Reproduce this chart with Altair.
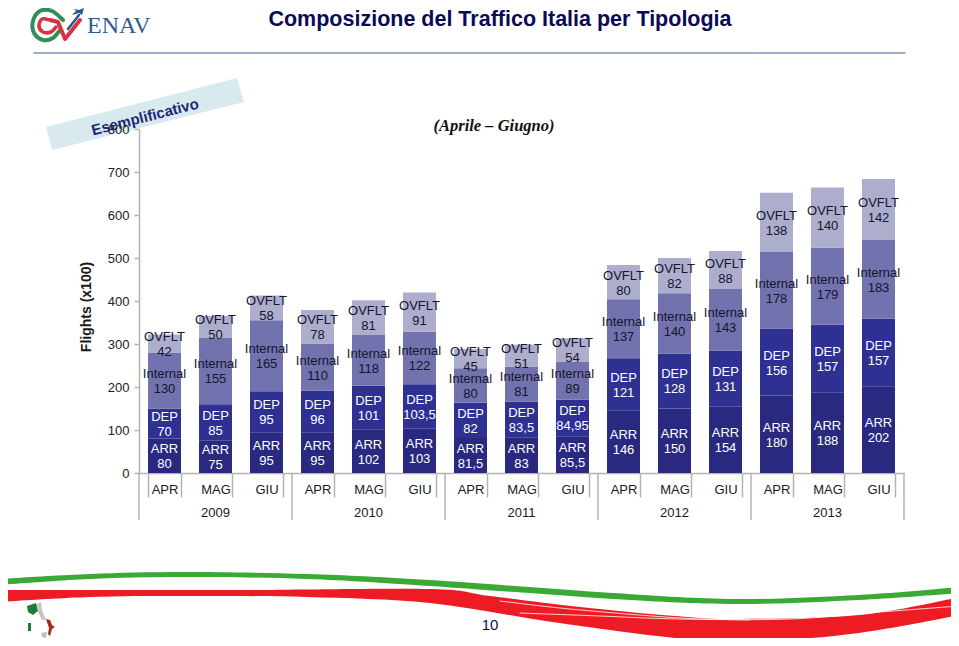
import re
import altair as alt
import pandas as pd

YEARS = ["2009", "2010", "2011", "2012", "2013"]
MONTHS = ["APR", "MAG", "GIU"]
SERIES = ["ARR", "DEP", "Internal", "OVFLT"]
COLORS = ["#29297f", "#2e3092", "#7272ae", "#adadcd"]
ARR = [80, 75, 95, 95, 102, 103, 81.5, 83, 85.5, 146, 150, 154, 180, 188, 202]
DEP = [70, 85, 95, 96, 101, 103.5, 82, 83.5, 84.95, 121, 128, 131, 156, 157, 157]
INTERNAL = [130, 155, 165, 110, 118, 122, 80, 81, 89, 137, 140, 143, 178, 179, 183]
OVFLT = [42, 50, 58, 78, 81, 91, 45, 51, 54, 80, 82, 88, 138, 140, 142]
Y_TICKS = [0, 100, 200, 300, 400, 500, 600, 700, 800]

KEYS = [f"{y}|{m}" for y in YEARS for m in MONTHS]
rows = []
for s, vals in zip(SERIES, [ARR, DEP, INTERNAL, OVFLT]):
    for k, v in zip(KEYS, vals):
        txt = f"{v:g}".replace(".", ",")
        rows.append({"key": k, "series": s, "order": SERIES.index(s), "value": v, "label": f"{s}\n{txt}"})
df = pd.DataFrame(rows)

LEFT, TOP, W, H = 139, 129, 765, 344
ONE = pd.DataFrame({"a": [0]})
OX, OY, R = 479, 323, 480
GREY = "#b3b3b3"
FONT = "Liberation Sans"

xenc = alt.X(
    "key:N", sort=KEYS,
    scale=alt.Scale(paddingInner=0.353, paddingOuter=0.1765),
    axis=alt.Axis(
        title=None, labelExpr="split(datum.value,'|')[1]", labelAngle=0, tickBand="extent",
        tickSize=24, tickColor=GREY, tickWidth=1.5, domainColor=GREY, domainWidth=1.5,
        labelPadding=-8, labelFont=FONT, labelFontSize=13, labelColor="#1a1a1a", labelBaseline="middle",
    ),
)
yaxis = alt.Axis(
    values=Y_TICKS, title="Flights (x100)", titleFont=FONT, titleFontSize=14, titleFontWeight="bold",
    titleColor="#1a1a1a", titleX=-46, titleY=177.5, grid=False, tickSize=5, tickColor=GREY, tickWidth=1.5,
    domainColor=GREY, domainWidth=1.5, labelFont=FONT, labelFontSize=13, labelColor="#222222",
    labelPadding=5, zindex=1,
)
yscale = alt.Scale(domain=[0, 800], nice=False)


def to_unit(path):
    nums = iter(re.findall(r"[A-Za-z]|-?[\d.]+", path))
    out, is_x = [], True
    for t in nums:
        if t.isalpha():
            out.append(t)
            is_x = True
        else:
            v = float(t)
            out.append(f"{(v - OX) / R:.5f}" if is_x else f"{(v - OY) / R:.5f}")
            is_x = not is_x
    return " ".join(out)


def smooth(pts):
    d = f"M {pts[0][0]} {pts[0][1]}"
    for i in range(len(pts) - 1):
        p0 = pts[max(i - 1, 0)]
        p1 = pts[i]
        p2 = pts[i + 1]
        p3 = pts[min(i + 2, len(pts) - 1)]
        c1 = (p1[0] + (p2[0] - p0[0]) / 6, p1[1] + (p2[1] - p0[1]) / 6)
        c2 = (p2[0] - (p3[0] - p1[0]) / 6, p2[1] - (p3[1] - p1[1]) / 6)
        d += f" C {c1[0]} {c1[1]} {c2[0]} {c2[1]} {p2[0]} {p2[1]}"
    return d


def ribbon(top, bottom):
    a = smooth(top)
    b = smooth(bottom[::-1])
    return a + " L" + b[1:] + " Z"


def shape_fill(path, color, opacity=1):
    return alt.Chart(ONE).mark_point(
        shape=to_unit(path), size=(2 * R) ** 2, filled=True, fill=color, stroke=None, opacity=opacity
    ).encode(x=alt.value(OX - LEFT), y=alt.value(OY - TOP))


def shape_line(path, color, sw):
    return alt.Chart(ONE).mark_point(
        shape=to_unit(path), size=(2 * R) ** 2, filled=False, stroke=color, strokeWidth=sw, opacity=1,
        strokeCap="round", strokeJoin="round",
    ).encode(x=alt.value(OX - LEFT), y=alt.value(OY - TOP))


def label(text, x, y, **kw):
    kw.setdefault("font", FONT)
    kw.setdefault("baseline", "middle")
    return alt.Chart(ONE).mark_text(text=text, **kw).encode(x=alt.value(x - LEFT), y=alt.value(y - TOP))


stacked = alt.Chart(df).transform_stack(
    stack="value", as_=["y0", "y1"], groupby=["key"], sort=[alt.SortField("order", order="ascending")]
).transform_calculate(mid="(datum.y0+datum.y1)/2")

bars = stacked.mark_bar().encode(
    x=xenc,
    y=alt.Y("y0:Q", scale=yscale, axis=yaxis),
    y2="y1:Q",
    color=alt.Color("series:N", scale=alt.Scale(domain=SERIES, range=COLORS), legend=None),
)

def seg_text(series, color):
    return stacked.transform_filter(alt.FieldOneOfPredicate("series", series)).mark_text(
        font=FONT, fontSize=13, lineBreak="\n", lineHeight=15, color=color, baseline="middle", dy=-6.5
    ).encode(x=alt.X("key:N", sort=KEYS), y=alt.Y("mid:Q", scale=yscale), text="label:N")

year_df = pd.DataFrame({"key": [f"{y}|MAG" for y in YEARS], "year": YEARS})
first_df = pd.DataFrame({"key": [f"{y}|APR" for y in YEARS]})
last_df = pd.DataFrame({"key": [KEYS[-1]]})

year_text = alt.Chart(year_df).mark_text(font=FONT, fontSize=13, color="#1a1a1a", baseline="middle").encode(
    x=alt.X("key:N", sort=KEYS), y=alt.value(513 - TOP), text="year:N"
)
year_rule = alt.Chart(first_df).mark_rule(color=GREY, strokeWidth=1.5, xOffset=-9).encode(
    x=alt.X("key:N", sort=KEYS, bandPosition=0), y=alt.value(H), y2=alt.value(520 - TOP)
)
end_rule = alt.Chart(last_df).mark_rule(color=GREY, strokeWidth=1.5, xOffset=9).encode(
    x=alt.X("key:N", sort=KEYS, bandPosition=1), y=alt.value(H), y2=alt.value(520 - TOP)
)

# decorations of the slide
green_band = ribbon(
    [(-2, 579), (90, 574), (184, 572), (307, 574), (430, 580), (613, 593), (736, 599), (859, 595), (961, 587)],
    [(-2, 585), (90, 579), (184, 577), (307, 579), (430, 586), (613, 599), (736, 604), (859, 600), (961, 593)],
)
red_band = ribbon(
    [(-2, 590), (120, 590), (245, 590), (430, 589), (490, 596), (580, 607), (675, 616), (736, 619), (859, 615), (961, 597)],
    [(-2, 602), (90, 597), (184, 596), (307, 597), (430, 603), (552, 622), (675, 638), (748, 642), (859, 633), (961, 615)],
)
white1 = smooth([(500, 601), (570, 609), (680, 618), (750, 620)])
white2 = smooth([(520, 613), (600, 616), (680, 619), (790, 619), (880, 612), (959, 606)])
banner = "M 46 127 L 237 78 L 244 102 L 52 150 Z"
LOGO_DY = 7
def shift(pts):
    return [(x, y + LOGO_DY) for x, y in pts]
green_c = smooth(shift([(63, 13), (52, 4), (40, 4), (33, 14), (34, 26), (43, 33), (53, 31), (60, 23)]))
red_c = smooth(shift([(50, 13), (42, 12), (39, 19), (43, 25), (51, 25), (56, 20)]))
red_v = "M 50 20 L 58 22 L 65 39 L 80 20"
blue_l = "M 68 29 L 79 15"
plane = "M 84 8 L 82 15 L 79 13 L 72 15 L 76 11 L 74 9 L 79 10 Z"
it_green = "M 27 606 L 33 604 L 36 603 L 38 611 L 33 615 L 28 612 Z"
it_grey = "M 37 604 L 41 602 L 42 610 L 46 620 L 42 620 L 38 612 Z"
it_red = "M 46 619 L 50 620 L 52 625 L 55 627 L 52 629 L 50 636 L 48 634 L 49 628 Z"
it_sard = "M 28 623 L 31 623 L 31 631 L 28 631 Z"
it_sic = "M 41 633 L 47 632 L 46 638 L 42 637 Z"

decor_back = [
    shape_fill(green_band, "#3aaa35"),
    shape_fill(red_band, "#ed1c24"),
    shape_line(white1, "#ffffff", 0.8),
    shape_line(white2, "#ffffff", 0.8),
    shape_fill(banner, "#d9eaee"),
    label("Esemplificativo", 145, 117, fontSize=15, fontWeight="bold", color="#1f2878", angle=345.6),
    shape_line("M 34 53 L 905 53", "#7f97b5", 1.5),
    label("Composizione del Traffico Italia per Tipologia", 500, 20, fontSize=21.5, fontWeight="bold", color="#0b0b55"),
    label("ENAV", 87, 26, align="left", font="Liberation Serif", fontSize=24, color="#2f5c8f"),
    shape_line(green_c, "#2f8f5b", 4),
    shape_line(red_c, "#d9333f", 3.5),
    shape_line(red_v, "#d9333f", 4),
    shape_line(blue_l, "#1f5a96", 2.5),
    shape_fill(plane, "#1f5a96"),
    label("(Aprile – Giugno)", 494, 126, fontSize=16.5, font="Liberation Serif", fontStyle="italic",
          fontWeight="bold", color="#111111"),
    label("10", 490, 625, fontSize=15, color="#0b0b55"),
    shape_fill(it_green, "#1f7a3a"),
    shape_fill(it_grey, "#c4c4c4"),
    shape_fill(it_red, "#a52a20"),
    shape_fill(it_sard, "#1f7a3a"),
    shape_fill(it_sic, "#bdbdbd"),
]

chart = alt.layer(
    *decor_back,
    bars,
    seg_text(["Internal", "OVFLT"], "#15152e"),
    seg_text(["ARR", "DEP"], "#ffffff"),
    year_rule,
    end_rule,
    year_text,
).properties(
    width=W, height=H, autosize="none",
    padding={"left": LEFT - 8, "top": TOP - 8, "right": 959 - 16 - (LEFT - 8) - W, "bottom": 646 - 16 - (TOP - 8) - H},
).configure_view(stroke=None)

chart.save("out.html", embed_options={"renderer": "svg", "actions": False})
